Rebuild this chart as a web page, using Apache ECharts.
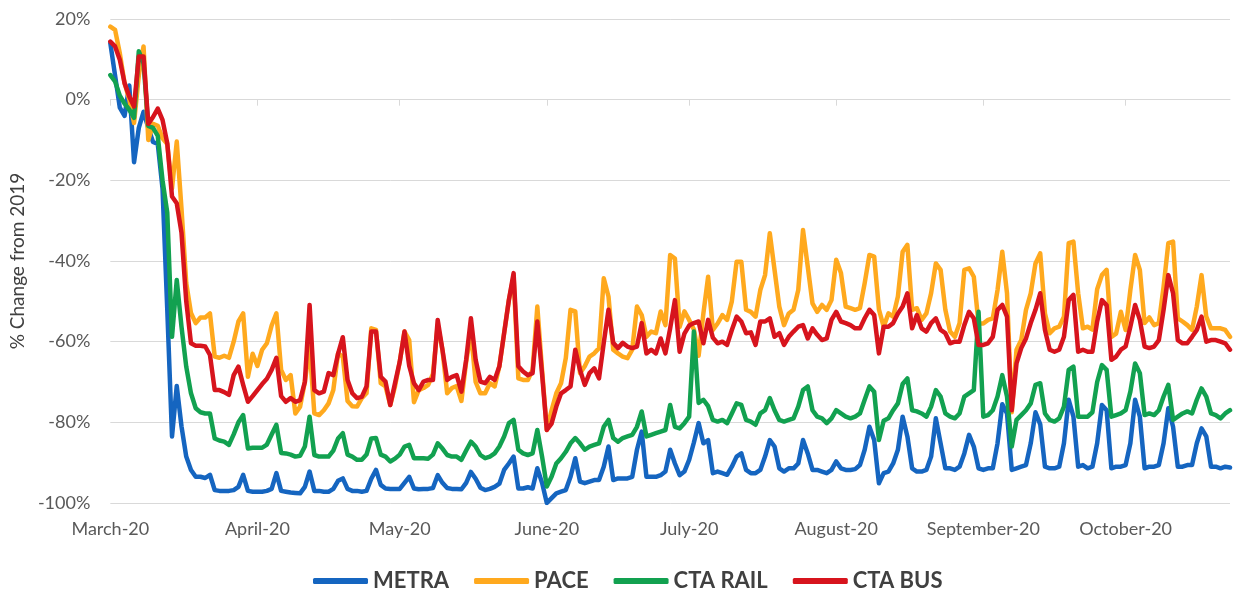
<!DOCTYPE html>
<html>
<head>
<meta charset="utf-8">
<script src="https://cdn.jsdelivr.net/npm/echarts@6/dist/echarts.min.js"></script>
<style>
  html, body { margin: 0; padding: 0; background: #ffffff; }
  #chart { width: 1233px; height: 593px; }
</style>
</head>
<body>
<div id="chart"></div>
<script>
// ---- Data (daily, first day = 2020-03-01, 237 days) ----
const startDate = '2020-03-01';
const dayCount = 237;
const monthLabels = ['March-20', 'April-20', 'May-20', 'June-20', 'July-20', 'August-20', 'September-20', 'October-20'];
const yTickLabels = [-100, -80, -60, -40, -20, 0, 20];
const seriesNames = ['METRA', 'PACE', 'CTA RAIL', 'CTA BUS'];

const metra = [
  14, 6, -2, -4, 3.5, -15.5, -7,
  -3, -7, -10.5, -11, -22, -52, -83.5,
  -71, -81, -88.5, -91.8, -93.5, -93.5, -93.8,
  -93, -96.8, -97, -97, -97, -96.8, -96,
  -93, -97, -97.2, -97.2, -97.2, -97, -96.5,
  -92.6, -97, -97.2, -97.4, -97.5, -97.6, -96,
  -92.2, -97, -97, -97.2, -97.2, -96.5, -94.5,
  -93.9, -96.5, -97, -97, -97.2, -97, -94,
  -91.8, -95.5, -96.4, -96.5, -96.5, -96.5, -95,
  -93.5, -96.4, -96.6, -96.5, -96.5, -96.3, -93.1,
  -95, -96.3, -96.5, -96.5, -96.6, -95, -92.3,
  -94, -96.2, -96.8, -96.5, -96, -95.2, -91.8,
  -90.2, -88.5, -96.4, -96.4, -96.1, -96.4, -91.4,
  -95, -100, -98.8, -97.6, -97.2, -96.8, -93.5,
  -88.9, -94.7, -95.1, -94.7, -94.3, -94.3, -91,
  -86, -94.3, -93.9, -93.9, -93.9, -93.5, -86.8,
  -82.3, -93.5, -93.5, -93.5, -93.1, -92.2, -86.8,
  -90.2, -93.1, -92.2, -89.3, -85, -80.2, -85.2,
  -84.4, -92.6, -92.2, -92.6, -93, -91, -88.5,
  -87.7, -91.8, -92.6, -92.6, -91.8, -88.5, -84.4,
  -86, -91.4, -92.2, -91.4, -91.4, -90.2, -84.4,
  -87.7, -91.8, -91.8, -92.2, -92.6, -91.8, -89.7,
  -91.4, -91.8, -91.8, -91.6, -90.6, -86.8, -81.1,
  -84.4, -95.1, -92.6, -92.2, -90.2, -86.8, -78.6,
  -83.5, -91.4, -92.2, -92.2, -91.8, -88.5, -79,
  -85.2, -91.4, -91.4, -91.8, -91, -87.7, -83.1,
  -86, -91.4, -91.8, -91.4, -91.4, -85.2, -75.5,
  -77.8, -91.8, -91.4, -91, -90.6, -85.2, -77.5,
  -80.5, -91, -91.4, -91.4, -91, -85.2, -74.4,
  -78.6, -91, -90.6, -91.4, -91, -85.2, -75.7,
  -77, -91.4, -91, -91, -90.6, -85.2, -74.4,
  -78.6, -91.4, -91, -91, -90.6, -85.2, -76.5,
  -81.1, -91, -91, -90.6, -90.6, -85.2, -81.5,
  -83.5, -91, -91, -91.4, -91, -91.2
];

const pace = [
  18.1, 17.3, 11.5, 4.1, 0, -5.8, 6,
  13.2, -10, -6, -6.5, -9.6, -11, -22,
  -10.4, -27, -45.5, -52.9, -55.4, -54, -54,
  -53, -63.7, -64, -63.5, -64, -60, -55,
  -53, -68.7, -63, -66, -62, -60.4, -56,
  -53, -67, -69.5, -68.3, -77.8, -76.1, -70,
  -61.2, -77.8, -78.2, -77, -75.3, -72, -62.9,
  -63.7, -74.7, -76, -76.1, -74, -72.8, -56.7,
  -57.1, -70.3, -71.1, -75.7, -71.1, -65, -57.5,
  -59.6, -75, -72, -71.5, -70.7, -68, -55.9,
  -62, -72.8, -71.5, -71, -74.7, -65, -57.5,
  -70, -72.8, -72.8, -70.3, -71.1, -66.1, -57.9,
  -49.7, -43.8, -69.1, -69.5, -69.5, -67, -51.3,
  -67, -81.9, -77, -72.8, -70.3, -64.1, -52.1,
  -52.5, -67.8, -66.1, -63.7, -62.9, -61.6, -44.3,
  -48.8, -62, -62.9, -63.7, -64.1, -62, -51.3,
  -53.4, -58.8, -57.5, -57.9, -52.5, -55.9, -38.5,
  -39.4, -56.3, -52.5, -54.6, -57, -63.5, -53,
  -43.9, -57.1, -55.5, -53.4, -54.6, -50, -40.2,
  -40.2, -52.1, -52.6, -53.8, -47.2, -43.5, -33.1,
  -42.2, -51.3, -55.9, -53, -52.1, -47.2, -32.3,
  -41.4, -50.5, -52.6, -50.9, -52.1, -49.7, -39.7,
  -43, -51.3, -51.7, -52.1, -51.7, -45.5, -38.5,
  -38.9, -52, -56.3, -53, -53.8, -48.8, -37.7,
  -36, -52.1, -51.7, -54.6, -53, -48, -40.6,
  -42.2, -52.1, -57.5, -58.8, -55.4, -42.2, -41.8,
  -43.9, -55.5, -55.5, -54.6, -54.2, -47.2, -37.7,
  -48, -77.5, -62, -59.6, -52.1, -48, -40.6,
  -38.1, -53, -57.9, -56.7, -56.3, -53.8, -35.6,
  -35.2, -48, -56.7, -56.3, -57, -47, -43.5,
  -42.2, -58.8, -58, -52.6, -57.1, -47.2, -38.5,
  -42.2, -55.4, -54, -55.9, -55.4, -46.4, -35.6,
  -35.2, -54.2, -55, -55.9, -57.1, -51.3, -43.5,
  -53.8, -56.7, -56.7, -56.7, -57.1, -58.8
];

const ctaRail = [
  6.1, 4.5, 1, -1, -2.5, -4.5, 12,
  9, -6.5, -7, -9, -20, -28, -58.8,
  -44.7, -56.3, -66.2, -72.8, -76.5, -77.5, -77.8,
  -77.8, -84, -84.5, -84.8, -85.6, -83, -80,
  -78.2, -86.5, -86.3, -86.3, -86.3, -85.5, -83,
  -80.6, -87.6, -87.7, -88, -88.5, -88.3, -86,
  -78.6, -88.1, -88.5, -88.5, -88.5, -87, -84,
  -82.7, -88, -88.5, -89.3, -89.3, -88, -84,
  -83.9, -88, -88.5, -89.7, -89, -88, -86,
  -85.6, -88.9, -88.9, -88.9, -89, -88, -85.2,
  -86.5, -88.1, -88.5, -88.5, -89.3, -87, -84.8,
  -86, -88.1, -88.9, -88.5, -87.7, -86, -83.5,
  -80.2, -79.4, -86.8, -87.7, -88.1, -87.7, -81.9,
  -88.5, -95.9, -93.5, -90.2, -88.9, -87.3, -85.2,
  -83.9, -85.2, -86.8, -86, -85.6, -85.2, -81.1,
  -79.4, -83.9, -84.8, -83.9, -83.5, -83.1, -81.1,
  -77.3, -83.5, -83.1, -82.7, -82.3, -81.9, -75.7,
  -81.1, -81.5, -80.2, -78.6, -57.5, -75.2, -74.4,
  -76, -79.4, -79.8, -79.4, -80.2, -77.8, -75.3,
  -75.7, -79.4, -79.8, -80.6, -77.8, -77, -74,
  -77, -79.4, -79.8, -79.4, -79, -76.1, -72,
  -71.1, -77, -78.6, -79, -80.2, -79, -77,
  -77.8, -78.6, -79, -78.6, -77.8, -74.4, -71.1,
  -72.4, -84.4, -79.6, -79, -77, -75.3, -70.5,
  -69.1, -77, -77.3, -77.8, -78.6, -76.1, -72,
  -73.6, -77.8, -78.6, -79, -77.8, -73.6, -72.8,
  -72, -52.6, -78.6, -78.2, -77, -73.6, -68.3,
  -73.6, -86, -79.4, -78.2, -77, -75.3, -70.7,
  -70.3, -77.8, -79.4, -79.8, -79, -76.1, -67,
  -66.2, -78.6, -78.6, -78.6, -77.5, -70, -65.8,
  -67, -78.6, -78.2, -77.8, -77, -72.4, -65.4,
  -67.8, -78.2, -77.8, -78.2, -77, -73.6, -70.7,
  -79.4, -78.6, -77.8, -77.3, -77.8, -74.4, -71.6,
  -73.6, -77.8, -78.2, -79, -77.8, -77
];

const ctaBus = [
  14.4, 13.2, 9.9, 4.1, 0.8, -1.7, 10.7,
  10.7, -6, -4.3, -2.2, -5, -10.8, -24,
  -25.7, -33, -50, -60.4, -61, -61, -61.2,
  -63.3, -72, -72, -72.5, -73.2, -68.3, -66.2,
  -70.7, -74.9, -73.5, -72, -70.5, -69.2, -67,
  -64, -73.5, -74.9, -74, -74.9, -74.5, -70,
  -50.9, -72, -72.8, -72.4, -67.8, -68.3, -63,
  -58.9, -69.5, -72.8, -74, -73.7, -71.1, -57.5,
  -57.5, -68.7, -69.9, -75.7, -70.3, -65, -57.5,
  -66, -70.3, -72, -69.9, -69.5, -69.5, -54.6,
  -62, -69.5, -68.7, -68.3, -72.4, -64.5, -54.2,
  -64.5, -69.9, -70.3, -68.7, -69.5, -66.1, -57.9,
  -49.7, -43, -66.1, -67.4, -68.3, -67.8, -55,
  -68, -81.9, -80.3, -76.1, -72.8, -72, -71.1,
  -62, -67, -70.7, -67.8, -66.6, -69.1, -60.3,
  -52.1, -60.3, -61.6, -60.3, -61.2, -61.6, -61.2,
  -55.4, -62.9, -62, -62.9, -59.2, -62.9, -56.7,
  -49.7, -62.5, -58, -56, -55.4, -55, -60.4,
  -54.6, -59, -60.4, -60, -60.8, -57.1, -53.8,
  -55, -57.9, -57.7, -60.8, -55, -55, -54.2,
  -58.8, -57.9, -60.8, -58.8, -57.5, -56.3, -55.9,
  -59.2, -56.7, -58.3, -59.6, -59.2, -54.6, -52.6,
  -55, -55.4, -55.9, -56.7, -56.7, -54.2, -52.1,
  -53.4, -62.9, -56.3, -56.3, -55.4, -53, -51.3,
  -48, -56.7, -53.4, -56.7, -57.5, -55.4, -54.2,
  -57.1, -57.9, -60.4, -60, -60, -55.9, -52.6,
  -54.2, -60.8, -60.8, -60.4, -58.8, -52.1, -50.9,
  -53.8, -77, -65.4, -61.6, -59.2, -55.4, -52.1,
  -48, -57.1, -62, -62.5, -62, -58.8, -49.7,
  -48.4, -62.5, -62, -62.5, -62.5, -55, -49.7,
  -51, -64.5, -63.7, -62, -61.2, -56.3, -50.9,
  -54.6, -61.2, -61.6, -61.2, -59.6, -52.1, -43.5,
  -48, -59.6, -60.4, -60.4, -58.8, -57.1, -53.8,
  -60, -59.6, -59.6, -60, -60.4, -62
];

// ---- Category axis: one entry per day ----
const categories = [];
(function () {
  const d0 = new Date(startDate + 'T00:00:00Z');
  for (let i = 0; i < dayCount; i++) {
    const d = new Date(d0.getTime() + i * 86400000);
    categories.push(d.toISOString().slice(0, 10));
  }
})();

const isMonthStart = (idx, val) => val.slice(8, 10) === '01';
const monthLabel = (val) => {
  const m = parseInt(val.slice(5, 7), 10);
  return monthLabels[m - 3] || '';
};

const colors = ['#1565C0', '#FFA91E', '#12A150', '#D7141D'];
const seriesData = [metra, pace, ctaRail, ctaBus];

const chart = echarts.init(document.getElementById('chart'), null, { renderer: 'canvas' });
const font = 'Lato, "Open Sans", sans-serif';

chart.setOption({
  animation: false,
  backgroundColor: '#ffffff',
  color: colors,
  grid: { left: 110, right: 3, top: 19, bottom: 90, containLabel: false },
  legend: {
    data: seriesNames,
    left: 308,
    top: 565,
    icon: 'roundRect',
    itemWidth: 55,
    itemHeight: 6,
    itemGap: 25,
    textStyle: { fontFamily: font, fontWeight: 'bold', fontSize: 22, color: '#404040' }
  },
  xAxis: {
    type: 'category',
    data: categories,
    boundaryGap: false,
    axisLine: { show: true, lineStyle: { color: '#d9d9d9', width: 1 } },
    axisTick: { show: true, interval: isMonthStart, length: 6, lineStyle: { color: '#d9d9d9' } },
    axisLabel: {
      interval: isMonthStart,
      formatter: monthLabel,
      color: '#595959',
      fontFamily: font,
      fontSize: 18,
      margin: 17
    },
    splitLine: { show: false }
  },
  yAxis: {
    type: 'value',
    min: yTickLabels[0],
    max: yTickLabels[yTickLabels.length - 1],
    interval: 20,
    name: '% Change from 2019',
    nameLocation: 'middle',
    nameGap: 80,
    nameTextStyle: { fontFamily: font, fontSize: 19, color: '#404040' },
    axisLine: { show: false },
    axisTick: { show: false },
    axisLabel: { formatter: '{value}%', color: '#595959', fontFamily: font, fontSize: 18, margin: 20 },
    splitLine: { lineStyle: { color: '#d9d9d9', width: 1 } }
  },
  series: seriesNames.map((name, i) => ({
    name: name,
    type: 'line',
    data: seriesData[i],
    showSymbol: false,
    symbol: 'none',
    smooth: false,
    lineStyle: { width: 4.5, color: colors[i], join: 'round', cap: 'round' },
    itemStyle: { color: colors[i] },
    emphasis: { disabled: true }
  }))
});
</script>
</body>
</html>
